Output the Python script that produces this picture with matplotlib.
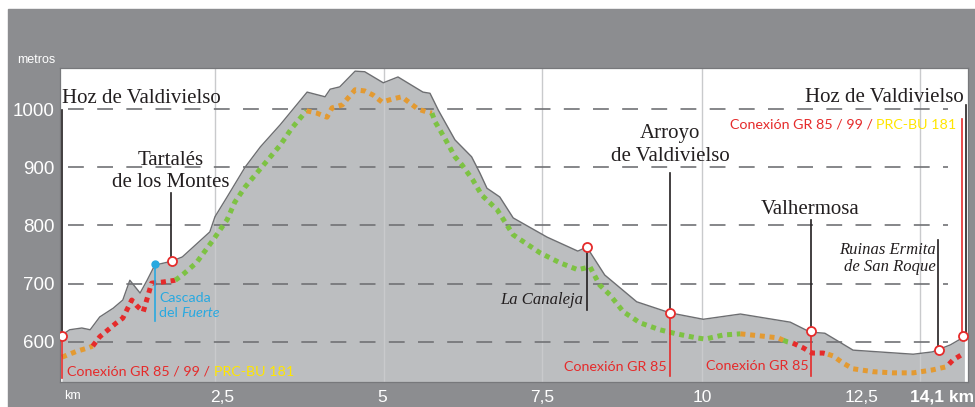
import matplotlib.pyplot as plt
from matplotlib.patches import Rectangle

# perfil del terreno (km, metros)
profile_km = [0.00, 0.12, 0.31, 0.44, 0.59, 0.80, 0.95, 1.06, 1.22, 1.33, 1.45, 1.61, 1.72, 1.88,
              2.31, 2.39, 2.58, 2.86, 3.10, 3.41, 3.83, 4.11, 4.19, 4.34, 4.58, 4.73, 5.02, 5.25,
              5.64, 5.75, 5.88, 6.14, 6.40, 6.53, 6.64, 6.84, 7.05, 7.58, 8.06, 8.20, 8.48, 8.98,
              9.50, 10.02, 10.60, 11.38, 11.69, 11.92, 12.36, 13.30, 13.60, 13.88, 14.10]
profile_elev = [612, 621, 624, 621, 643, 658, 672, 706, 684, 706, 732, 736, 739, 746,
                789, 815, 849, 900, 935, 973, 1029, 1021, 1034, 1038, 1065, 1064, 1045, 1055,
                1029, 1027, 998, 947, 918, 890, 864, 849, 813, 780, 756, 763, 715, 669,
                650, 639, 648, 634, 617, 615, 586, 579, 583, 595, 609]

# trazado de la ruta (linea de puntos)
route_km = [0.00, 0.23, 0.41, 0.48, 0.59, 0.83, 0.95, 1.09, 1.17, 1.27, 1.40, 1.58, 1.77,
            1.88, 2.10, 2.36, 2.58, 2.70, 2.86, 3.41, 3.59, 3.82, 3.98, 4.14, 4.22, 4.38,
            4.47, 4.58, 4.73, 4.86, 5.00, 5.16, 5.31, 5.44, 5.56, 5.70, 5.78, 5.83, 5.98,
            6.14, 6.25, 6.42, 6.56, 6.80, 7.05, 7.47, 7.78, 8.06, 8.25, 8.40, 8.56, 8.77,
            9.03, 9.34, 9.60, 9.92, 10.05, 10.33, 10.60, 10.95, 11.19, 11.27, 11.34, 11.42,
            11.58, 11.72, 11.89, 11.97, 12.05, 12.20, 12.36, 12.67, 12.98, 13.30, 13.60,
            13.80, 13.86, 13.92, 14.10]
route_elev = [574, 584, 590, 593, 609, 631, 641, 672, 662, 652, 701, 703, 706,
              715, 736, 775, 810, 840, 866, 938, 967, 997, 993, 986, 1002, 1007,
              1019, 1033, 1031, 1024, 1012, 1017, 1021, 1010, 1000, 995, 993, 978, 950,
              918, 904, 878, 852, 827, 784, 753, 736, 724, 729, 698, 681, 652,
              633, 621, 614, 607, 605, 612, 614, 610, 607, 603, 600, 598,
              590, 581, 581, 579, 576, 564, 554, 549, 547, 547, 552,
              557, 562, 569, 581]
# tramos: indice inicial, indice final, tipo
seg_start = [0, 3, 12, 21, 36, 58, 61, 63, 67, 76]
seg_end = [3, 12, 21, 36, 58, 61, 63, 67, 76, 78]
seg_type = ['prc', 'gr', 'ruta', 'prc', 'ruta', 'prc', 'ruta', 'gr', 'prc', 'gr']

# puntos de interes
poi_km = [0.0, 1.72, 8.20, 9.50, 11.70, 13.70, 14.08]
poi_elev = [610, 739, 763, 649, 619, 587, 610]
cascada_km, cascada_elev = 1.45, 734

yticks = [600, 700, 800, 900, 1000]
xticks = [2.5, 5, 7.5, 10, 12.5]
xtick_labels = ['2,5', '5', '7,5', '10', '12,5']
vgrid_km = [2.39, 5.03, 7.50, 10.00, 13.41]

RED = '#e52b2b'
ORANGE = '#e39a32'
GREEN = '#7dc243'
YELLOW = '#ffe600'
BLUE = '#29a9e0'
colors = {'prc': ORANGE, 'gr': RED, 'ruta': GREEN}

SANS = 'Liberation Sans'
SERIF = 'Liberation Serif'
LABEL = 'Lato'
LSIZE = 10.3

fig = plt.figure(figsize=(9.75, 4.07), dpi=100, facecolor='white')
fig.patches.append(Rectangle((8 / 975, 0), 1, 1 - 9 / 407, transform=fig.transFigure,
                             color='#8c8d90', zorder=-10))
ax = fig.add_axes([60 / 975, 25 / 407, 908 / 975, 314 / 407])
ax.set_facecolor('white')
ax.set_xlim(-2 / 64, 906 / 64)
ax.set_ylim(531.3, 1070.4)

# relieve
ax.fill_between(profile_km, profile_elev, 500, color='#bcbec0', zorder=1, lw=0)
ax.plot(profile_km, profile_elev, color='#6d6e71', lw=1, zorder=2)

# rejilla
for k in vgrid_km:
    ax.axvline(k, color='#c9cacc', lw=1, zorder=1.5)
for y in yticks:
    ax.plot([0.1, 13.85], [y, y], color='#717275', lw=1.2, ls=(0, (9.5, 8)), zorder=3)

# ruta
for s, e, t in zip(seg_start, seg_end, seg_type):
    ax.plot(route_km[s:e + 1], route_elev[s:e + 1], color=colors[t], lw=3.6,
            ls=(0, (1, 0.95)), dash_capstyle='butt', zorder=4)

# lineas de referencia
black_lines = [(0.0, 998, 610), (1.70, 856, 745), (8.20, 758, 655), (9.50, 890, 652),
               (11.70, 809, 622), (13.68, 775, 590), (14.12, 1007, 612)]
for k, y0, y1 in black_lines:
    ax.plot([k, k], [y0, y1], color='#231f20', lw=1.2, zorder=5)
red_lines = [(0.0, 605, 538), (9.50, 645, 541), (11.70, 615, 541), (14.07, 983, 614)]
for k, y0, y1 in red_lines:
    ax.plot([k, k], [y0, y1], color=RED, lw=1.2, zorder=5)
ax.plot([cascada_km, cascada_km], [cascada_elev, 636], color=BLUE, lw=1.2, zorder=5)
ax.plot(cascada_km, cascada_elev, 'o', color=BLUE, ms=5, zorder=6)

ax.plot(poi_km, poi_elev, 'o', ms=6.5, mfc='white', mec=RED, mew=1.3, ls='none', zorder=6)

# nombres de lugares
ax.text(0.0, 1010, 'Hoz de Valdivielso', family=SERIF, fontsize=15, color='#231f20',
        ha='left', va='baseline', zorder=7)
ax.text(14.09, 1012, 'Hoz de Valdivielso', family=SERIF, fontsize=15, color='#231f20',
        ha='right', va='baseline', zorder=7)
ax.text(1.70, 904, 'Tartalés', family=SERIF, fontsize=15, color='#231f20', ha='center', va='baseline')
ax.text(1.70, 866, 'de los Montes', family=SERIF, fontsize=15, color='#231f20', ha='center', va='baseline')
ax.text(9.50, 950, 'Arroyo', family=SERIF, fontsize=15, color='#231f20', ha='center', va='baseline')
ax.text(9.50, 911, 'de Valdivielso', family=SERIF, fontsize=15, color='#231f20', ha='center', va='baseline')
ax.text(11.69, 820, 'Valhermosa', family=SERIF, fontsize=15, color='#231f20', ha='center', va='baseline')
ax.text(8.14, 665, 'La Canaleja', family=SERIF, style='italic', fontsize=12, color='#231f20',
        ha='right', va='baseline', zorder=7)
ax.text(13.65, 751, 'Ruinas Ermita', family=SERIF, style='italic', fontsize=12, color='#231f20',
        ha='right', va='baseline')
ax.text(13.65, 722, 'de San Roque', family=SERIF, style='italic', fontsize=12, color='#231f20',
        ha='right', va='baseline')

# conexiones
t1 = ax.text(0.08, 542, 'Conexión GR 85 / 99 / ', family=LABEL, fontsize=LSIZE, color=RED,
             ha='left', va='baseline', zorder=7)
ax.annotate('PRC-BU 181', xy=(1, 0), xycoords=t1, family=LABEL, fontsize=LSIZE, color=YELLOW,
            ha='left', va='bottom', zorder=7)
t2 = ax.text(13.98, 966, 'PRC-BU 181', family=LABEL, fontsize=LSIZE, color=YELLOW,
             ha='right', va='baseline', zorder=7)
ax.annotate('Conexión GR 85 / 99 / ', xy=(0, 0), xycoords=t2, family=LABEL, fontsize=LSIZE,
            color=RED, ha='right', va='bottom', zorder=7)
ax.text(9.45, 550, 'Conexión GR 85', family=LABEL, fontsize=LSIZE, color=RED, ha='right', va='baseline', zorder=7)
ax.text(11.66, 552, 'Conexión GR 85', family=LABEL, fontsize=LSIZE, color=RED, ha='right', va='baseline', zorder=7)
ax.text(1.52, 669, 'Cascada', family=LABEL, fontsize=LSIZE, color=BLUE, ha='left', va='baseline', zorder=7)
t3 = ax.text(1.52, 643, 'del ', family=LABEL, fontsize=LSIZE, color=BLUE, ha='left', va='baseline', zorder=7)
ax.annotate('Fuerte', xy=(1, 0), xycoords=t3, family=LABEL, style='italic', fontsize=LSIZE,
            color=BLUE, ha='left', va='bottom', zorder=7)

# ejes
ax.set_yticks(yticks)
ax.set_yticklabels([str(v) for v in yticks], family=SANS, fontsize=13.5, color='white')
ax.set_xticks(xticks)
ax.set_xticklabels(xtick_labels, family=SANS, fontsize=12.5, color='white')
ax.tick_params(axis='y', length=0, pad=3.6)
ax.tick_params(axis='x', length=0, pad=5.5)
for sp in ax.spines.values():
    sp.set_color('#77787b')
    sp.set_linewidth(0.9)

fig.text(17 / 975, 1 - 60 / 407, 'metros', family=SANS, fontsize=9, color='white', va='center')
fig.text(64 / 975, 1 - 396 / 407, 'km', family=SANS, fontsize=9, color='white', va='center')
fig.text(974 / 975, 1 - 397 / 407, '14,1 km', family=SANS, fontsize=12.5, weight='bold',
         color='white', ha='right', va='center')

fig.savefig('out.png', dpi=100, facecolor=fig.get_facecolor())
